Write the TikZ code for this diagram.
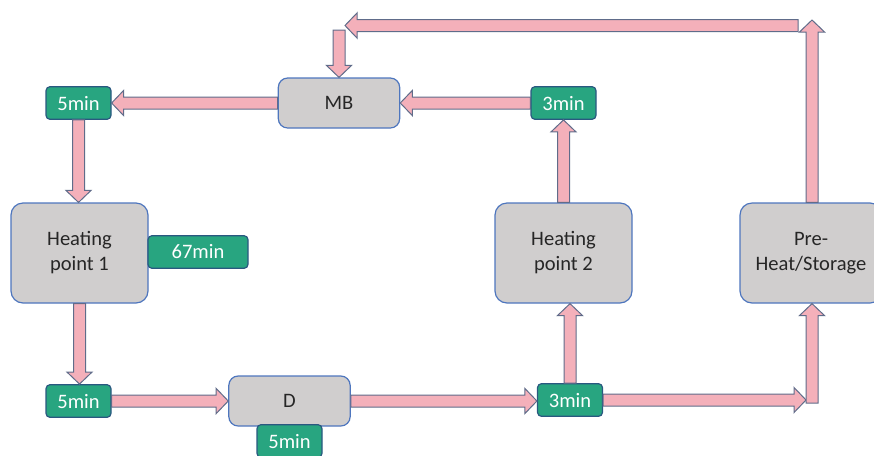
\documentclass[tikz,border=0pt]{standalone}
\usepackage{fontspec}
\setmainfont{Carlito}
\usetikzlibrary{calc}

\definecolor{boxfill}{RGB}{208,206,206}
\definecolor{boxedge}{RGB}{78,118,190}
\definecolor{timefill}{RGB}{40,165,128}
\definecolor{timeedge}{RGB}{42,88,128}
\definecolor{flowfill}{RGB}{244,176,186}
\definecolor{flowedge}{RGB}{96,108,138}

\tikzset{every picture/.style={line width=0.75pt}}
\tikzset{
  stage/.style={draw=boxedge, fill=boxfill, rounded corners=9pt, line width=0.9pt,
    align=center, text=black!85, font=\fontsize{15.4}{18.8}\selectfont,
    minimum width=102.75pt, minimum height=75pt, inner sep=1pt},
  smallstage/.style={stage, rounded corners=7pt, minimum width=91pt, minimum height=37.5pt},
  timebox/.style={draw=timeedge, fill=timefill, rounded corners=3pt, line width=0.9pt,
    text=white, font=\fontsize{15.4}{18.8}\selectfont,
    minimum width=48.75pt, minimum height=24.5pt, inner sep=1pt},
  flow/.style={draw=flowedge, fill=flowfill, line width=0.75pt, line join=miter}
}

% block arrow from #1 to the tip #2
\newcommand{\flowarrow}[2]{%
  \coordinate (fa-b) at ($(#2)!9pt!(#1)$);
  \draw [flow] ($(#1)!4.5pt!90:(#2)$) -- ($(fa-b)!4.5pt!90:(#2)$) -- ($(fa-b)!9.4pt!90:(#2)$)
    -- (#2) -- ($(fa-b)!9.4pt!-90:(#2)$) -- ($(fa-b)!4.5pt!-90:(#2)$) -- ($(#1)!4.5pt!-90:(#2)$) -- cycle ;
}

\begin{document}
\begin{tikzpicture}[x=0.75pt,y=0.75pt,yscale=-1,xscale=1]
\useasboundingbox (0,0) rectangle (874,455);

% Rounded Rect
\node [smallstage] (mb) at (339,103) {MB};
\node [stage] (hp1) at (79.5,253) {Heating\\point 1};
\node [stage] (hp2) at (563.5,253) {Heating\\point 2};
\node [stage, minimum width=106.5pt] (ph) at (811,253) {Pre-\\Heat/Storage};
\node [smallstage] (d) at (289.5,401) {D};

% Time Labels
\node [timebox] (t5a) at (78.5,103) {5min};
\node [timebox] (t3a) at (563.5,103) {3min};
\node [timebox, minimum width=75pt] (t67) at (198,252) {67min};
\node [timebox] (t5b) at (78.5,401) {5min};
\node [timebox] (t5c) at (289.5,441) {5min};
\node [timebox] (t3b) at (570,400) {3min};

% free ends of the return line
\coordinate (c1) at (806,400);
\coordinate (c2) at (812,403);
\coordinate (c3) at (812,20);
\coordinate (c4) at (798,25.5);
\coordinate (c5) at (345,25.5);
\coordinate (c6) at (339,30);

\coordinate (hp1in) at (t5a.south |- hp1.north);
\coordinate (t5bin) at (t5b.north -| hp1.south);
\coordinate (t3bin) at (d.east -| t3b.west);
\coordinate (hp2in) at (t3b.north |- hp2.south);
\coordinate (phin) at (c2 |- ph.south);
\coordinate (phout) at (c3 |- ph.north);

% Block Arrows
\flowarrow{mb.west}{t5a.east}
\flowarrow{t3a.west}{mb.east}
\flowarrow{t5a.south}{hp1in}
\flowarrow{hp1.south}{t5bin}
\flowarrow{t5b.east}{d.west}
\flowarrow{d.east}{t3bin}
\flowarrow{t3b.north}{hp2in}
\flowarrow{hp2.north}{t3a.south}
\flowarrow{t3b.east}{c1}
\flowarrow{c2}{phin}
\flowarrow{phout}{c3}
\flowarrow{c4}{c5}
\flowarrow{c6}{mb.north}

\end{tikzpicture}
\end{document}
